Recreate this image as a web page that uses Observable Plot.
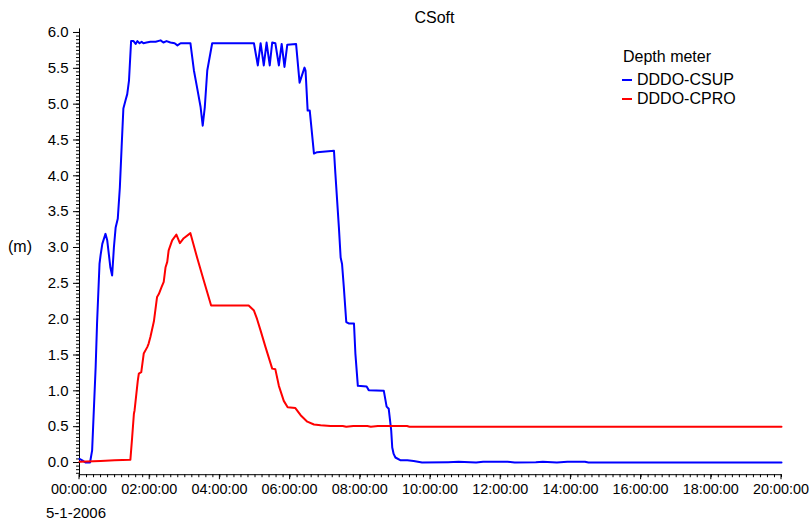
<!DOCTYPE html>
<html>
<head>
<meta charset="utf-8">
<script src="https://cdn.jsdelivr.net/npm/d3@7"></script>
<script src="https://cdn.jsdelivr.net/npm/@observablehq/plot@0.6"></script>
<style>
  html, body { margin: 0; padding: 0; background: #fff; }
  #wrap { position: relative; width: 809px; height: 521px; font-family: "Liberation Sans", Arial, Helvetica, sans-serif; color: #000; }
  #wrap svg { position: absolute; left: 0; top: 0; }
  .lbl { position: absolute; white-space: nowrap; line-height: 1; }
  .sw { position: absolute; height: 2px; width: 10px; }
</style>
</head>
<body>
<div id="wrap"></div>
<script>
// ---- Data (time in hours since 00:00:00 on 5-1-2006, depth in metres) ----
const seriesNames = ["DDDO-CSUP", "DDDO-CPRO"];
const seriesColors = ["#0000ff", "#ff0000"];

const csupHours = [0, 0.08, 0.17, 0.30, 0.36, 0.46, 0.50, 0.57, 0.60, 0.65,
  0.74, 0.79, 0.88, 0.93, 0.98, 1.03, 1.09, 1.15, 1.20, 1.25,
  1.31, 1.36, 1.41, 1.47, 1.54, 1.60, 1.65, 1.71, 1.77, 1.82,
  1.91, 2.02, 2.17, 2.31, 2.39, 2.48, 2.59, 2.71, 2.79, 2.88,
  3.16, 3.26, 3.35, 3.45, 3.51, 3.57, 3.64, 3.78, 4.97, 5.08,
  5.16, 5.25, 5.33, 5.42, 5.49, 5.58, 5.68, 5.76, 5.84, 5.92,
  6.17, 6.27, 6.41, 6.44, 6.50, 6.56, 6.68, 6.77, 7.25, 7.29,
  7.39, 7.44, 7.48, 7.53, 7.60, 7.67, 7.82, 7.86, 7.93, 8.18,
  8.24, 8.67, 8.75, 8.81, 8.88, 8.91, 8.95, 9.00, 9.15, 9.34,
  9.52, 9.76, 10.5, 10.8, 11.3, 11.5, 12.2, 12.4, 13.0, 13.2,
  13.6, 13.9, 14.4, 14.5, 20];
const csupValues = [0.05, 0.03, 0.0, 0.0, 0.17, 1.33, 1.94, 2.77, 2.89, 3.05,
  3.19, 3.10, 2.72, 2.61, 3.00, 3.28, 3.40, 3.84, 4.40, 4.94,
  5.05, 5.14, 5.33, 5.88, 5.88, 5.84, 5.88, 5.85, 5.87, 5.85,
  5.86, 5.87, 5.87, 5.89, 5.86, 5.88, 5.86, 5.85, 5.82, 5.85,
  5.85, 5.47, 5.23, 4.96, 4.70, 4.96, 5.47, 5.85, 5.85, 5.54,
  5.85, 5.54, 5.86, 5.54, 5.86, 5.85, 5.54, 5.84, 5.52, 5.83,
  5.84, 5.30, 5.51, 5.47, 4.91, 4.91, 4.31, 4.33, 4.35, 4.03,
  3.28, 2.86, 2.77, 2.45, 1.96, 1.94, 1.94, 1.52, 1.07, 1.06,
  1.01, 1.00, 0.78, 0.75, 0.45, 0.21, 0.12, 0.07, 0.03, 0.03,
  0.02, 0.0, 0.005, 0.01, 0.0, 0.01, 0.01, 0.0, 0.005, 0.01,
  0.0, 0.01, 0.01, 0.0, 0.0];

const cproHours = [0, 0.6, 1.0, 1.45, 1.50, 1.55, 1.57, 1.66, 1.69, 1.76,
  1.83, 1.93, 1.97, 2.02, 2.12, 2.21, 2.26, 2.34, 2.40, 2.45,
  2.50, 2.54, 2.64, 2.76, 2.86, 2.97, 3.16, 3.35, 3.54, 3.75,
  4.82, 4.97, 5.06, 5.16, 5.30, 5.49, 5.58, 5.68, 5.82, 5.93,
  6.15, 6.30, 6.49, 6.68, 6.87, 7.15, 7.5, 7.6, 7.8, 8.2,
  8.3, 8.5, 9.0, 9.33, 9.4, 20];
const cproValues = [0.01, 0.02, 0.03, 0.04, 0.35, 0.68, 0.73, 1.14, 1.24, 1.26,
  1.52, 1.61, 1.66, 1.75, 1.97, 2.31, 2.35, 2.45, 2.52, 2.72,
  2.80, 2.96, 3.10, 3.18, 3.06, 3.13, 3.20, 2.86, 2.54, 2.19,
  2.19, 2.12, 2.00, 1.84, 1.61, 1.31, 1.30, 1.07, 0.86, 0.77,
  0.76, 0.66, 0.57, 0.53, 0.52, 0.51, 0.51, 0.50, 0.51, 0.51,
  0.50, 0.51, 0.51, 0.51, 0.50, 0.50];

const xMajorTicks = [0, 2, 4, 6, 8, 10, 12, 14, 16, 18, 20];
const xTickLabels = ["00:00:00", "02:00:00", "04:00:00", "06:00:00", "08:00:00", "10:00:00",
  "12:00:00", "14:00:00", "16:00:00", "18:00:00", "20:00:00"];
const yMajorTicks = [0, 0.5, 1, 1.5, 2, 2.5, 3, 3.5, 4, 4.5, 5, 5.5, 6];
const dateLabel = "5-1-2006";
const unitLabel = "(m)";
const titleText = "CSoft";
const legendTitle = "Depth meter";

// ---- Build tables ----
const rows = [];
csupHours.forEach((h, i) => rows.push({series: seriesNames[0], h, v: csupValues[i]}));
cproHours.forEach((h, i) => rows.push({series: seriesNames[1], h, v: cproValues[i]}));

const xMinor = d3.range(0, 100.5, 1).map(i => i * 0.2);
const yMinor = d3.range(-3, 121).map(i => i * 0.05).filter(v => v >= -0.16 && v <= 6.001);
const yMin = -0.17, yMax = 6.05;

const chart = Plot.plot({
  width: 809,
  height: 521,
  marginLeft: 79,
  marginRight: 28,
  marginTop: 28.4,
  marginBottom: 46.8,
  style: {fontFamily: '"Liberation Sans", Arial, Helvetica, sans-serif', fontSize: "15px", color: "#000", background: "transparent", overflow: "visible"},
  x: {domain: [0, 20]},
  y: {domain: [yMin, yMax]},
  color: {domain: seriesNames, range: seriesColors},
  marks: [
    Plot.ruleY([yMin], {stroke: "#000", strokeWidth: 1}),
    Plot.ruleX([0], {stroke: "#000", strokeWidth: 1}),
    Plot.axisX({ticks: xMinor, tickSize: 3, tickFormat: () => "", label: null, stroke: "#000", strokeOpacity: 1}),
    Plot.axisX({ticks: xMajorTicks, tickSize: 5, tickPadding: 4, fontSize: 14.4, dx: -0.5, tickFormat: (d) => xTickLabels[xMajorTicks.indexOf(d)], label: null, stroke: "#000", strokeOpacity: 1, fill: "#000"}),
    Plot.axisY({ticks: yMinor, tickSize: 3, tickFormat: () => "", label: null, stroke: "#000", strokeOpacity: 1}),
    Plot.axisY({ticks: yMajorTicks, tickSize: 6, tickPadding: 5, tickFormat: d3.format(".1f"), label: null, stroke: "#000", strokeOpacity: 1, fill: "#000"}),
    Plot.line(rows, {x: "h", y: "v", z: "series", stroke: "series", strokeWidth: 2, curve: "linear"})
  ]
});

const wrap = document.getElementById("wrap");
wrap.appendChild(chart);

function addLabel(text, left, centerY, size, extra) {
  const d = document.createElement("div");
  d.className = "lbl";
  d.textContent = text;
  d.style.fontSize = size + "px";
  d.style.left = left + "px";
  d.style.top = (centerY - 0.49 * size) + "px";
  if (extra) Object.assign(d.style, extra);
  wrap.appendChild(d);
  return d;
}
// Title centered over plot area
addLabel(titleText, 30, 18, 16, {width: "809px", textAlign: "center"});
addLabel(unitLabel, 8, 247, 16);
addLabel(dateLabel, 46, 513, 15, {lineHeight: "0.95"});
addLabel(legendTitle, 623, 57, 16);
seriesNames.forEach((name, i) => {
  const cy = 80 + i * 19;
  const sw = document.createElement("div");
  sw.className = "sw";
  sw.style.left = "622px";
  sw.style.top = (cy - 1) + "px";
  sw.style.background = seriesColors[i];
  wrap.appendChild(sw);
  addLabel(name, 637, cy, 16);
});
</script>
</body>
</html>
